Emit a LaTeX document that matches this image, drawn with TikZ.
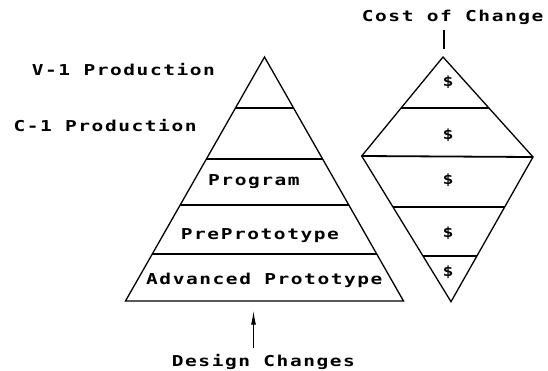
\documentclass[tikz,border=0pt]{standalone}
\usepackage{fontspec}
\newfontfamily\plotfont[LetterSpace=8]{DejaVu Sans Mono}
\usetikzlibrary{arrows.meta}
\newcommand\widetxt[1]{\scalebox{1.3}[1]{#1}}
\tikzset{
  lbl/.style={inner sep=0pt, anchor=base west, font=\plotfont\bfseries\fontsize{15}{18}\selectfont},
  dol/.style={inner sep=0pt, font=\plotfont\bfseries\fontsize{14}{16}\selectfont},
  edge/.style={line width=1.3pt, line join=miter},
  band/.style={line width=1.8pt},
}
\begin{document}
\begin{tikzpicture}[x=1pt,y=-1pt]
\path[fill=white] (0,0) rectangle (548,370);
\useasboundingbox (0,0) rectangle (548,370);
% pyramid
\coordinate (pA) at (264.5,57);
\coordinate (pL) at (125.5,301);
\coordinate (pR) at (403.5,301);
\draw[edge] (pL) -- (pA) -- (pR) -- cycle;
\foreach \yy/\hw [count=\i] in {108/29.05, 159/58.1, 205/84.3, 254/112.2}{
  \coordinate (pl\i) at (264.5-\hw,\yy);
  \coordinate (pr\i) at (264.5+\hw,\yy);
  \draw[band] (pl\i) -- (pr\i);
}
% diamond
\coordinate (dT) at (443,57);
\coordinate (dL) at (361.7,156);
\coordinate (dR) at (533,157);
\coordinate (dB) at (451,301.7);
\draw[edge] (dT) -- (dR) -- (dB) -- (dL) -- cycle;
\coordinate (dl1) at (400.9,108.3); \coordinate (dr1) at (489.2,108.3);
\coordinate (dl3) at (392.8,206.7); \coordinate (dr3) at (504.8,206.7);
\coordinate (dl4) at (422.8,255.7); \coordinate (dr4) at (477.1,255.7);
\draw[band] (dl1) -- (dr1);
\draw[band] (dL) -- (dR);
\draw[band] (dl3) -- (dr3);
\draw[band] (dl4) -- (dr4);
\foreach \yy [count=\i] in {82,135,180,233,272}{
  \node[dol] (s\i) at (448,\yy) {\widetxt{\$}};
}
% labels
\node[lbl] (cost) at (361.7,21.7) {\widetxt{Cost of Change}};
\node[lbl] (v1) at (31.7,75.7) {\widetxt{V-1 Production}};
\node[lbl] (c1) at (13.3,131) {\widetxt{C-1 Production}};
\node[lbl] (prog) at (208,185) {\widetxt{Program}};
\node[lbl] (pre) at (180.7,239.3) {\widetxt{PrePrototype}};
\node[lbl] (adv) at (146,284) {\widetxt{Advanced Prototype}};
\node[lbl] (des) at (171.7,366.7) {\widetxt{Design Changes}};
% connectors
\coordinate (tickTop) at (444,30);
\coordinate (tickBot) at (444,49);
\draw[line width=1.5pt] (tickTop) -- (tickBot);
\coordinate (arrTail) at (253.5,348);
\coordinate (arrTip) at (253.5,310.7);
\draw[line width=1.1pt, -{Latex[length=14pt,width=5pt]}] (arrTail) -- (arrTip);
\end{tikzpicture}
\end{document}
